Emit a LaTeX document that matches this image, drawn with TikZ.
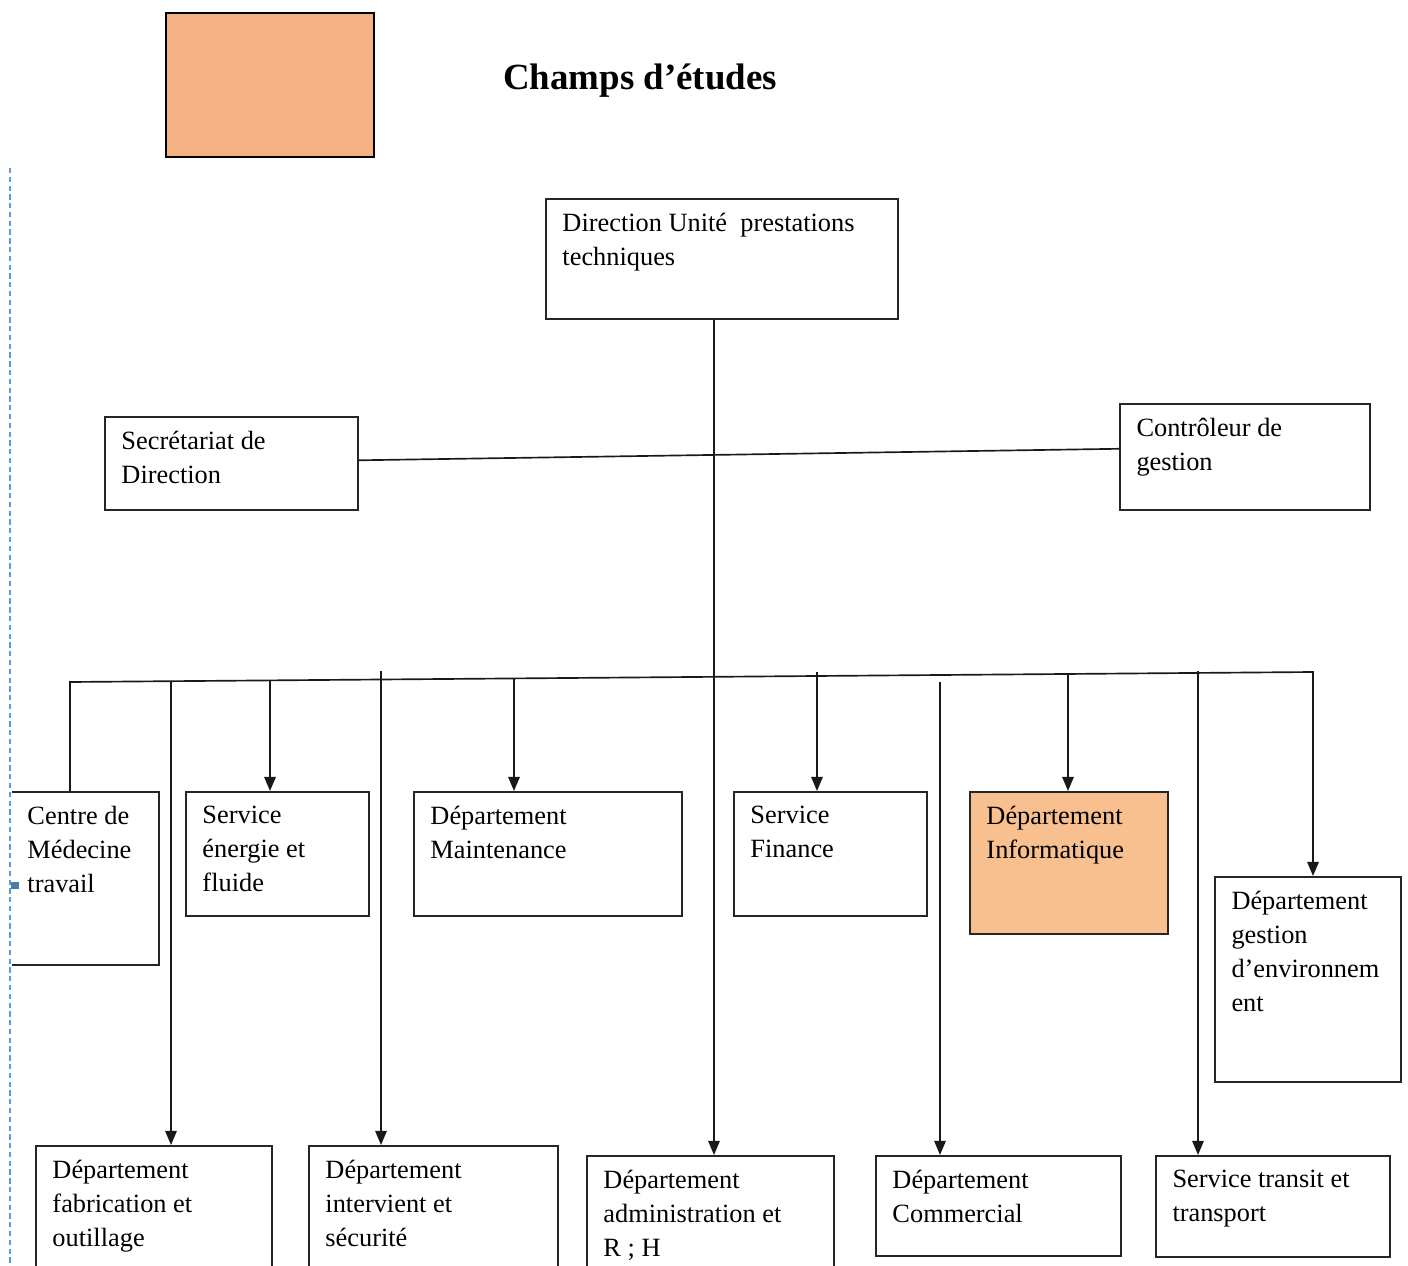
\documentclass[tikz,border=0pt]{standalone}
\usepackage{fontspec}
\setmainfont{Liberation Serif}
\usetikzlibrary{arrows.meta}
\definecolor{cleg}{RGB}{243,177,132}
\definecolor{cinfo}{RGB}{248,191,143}
\definecolor{cguide}{RGB}{91,155,213}

% one pixel of the layout
\newlength{\pxu}\setlength{\pxu}{0.02cm}
% text block of a unit box, top aligned (outer width, outer height in px)
\newcommand{\unittext}[3]{\parbox[t][\dimexpr #2\pxu-16pt\relax][t]{\dimexpr #1\pxu-19pt\relax}{\raggedright #3}}

\begin{document}
\begin{tikzpicture}[
    x=0.02cm, y=-0.02cm,
    unit/.style={draw=black!85, line width=0.9pt, anchor=north west,
                 inner xsep=9.5pt, inner ysep=8pt, font=\fontsize{15}{19.4}\selectfont},
    link/.style={draw=black!90, line width=0.95pt},
    >={Triangle[length=8pt,width=6.5pt]}
  ]
  \useasboundingbox (0,0) rectangle (1408,1266);
  \clip (0,0) rectangle (1408,1266);

  % legend
  \node[draw=black, line width=1.1pt, fill=cleg, anchor=north west, inner sep=0pt,
        minimum width=4.16cm, minimum height=2.88cm] (legend) at (165,12) {};
  \node[font=\fontsize{21}{25}\selectfont\bfseries] (title) at (640,81) {Champs d’études};

  % head
  \node[unit] (dir) at (545,198) {\unittext{352}{120}{Direction Unité \ prestations\\techniques}};
  \node[unit] (sec) at (104,416) {\unittext{253}{93}{Secrétariat de\\Direction}};
  \node[unit] (ctrl) at (1119,403) {\unittext{250}{106}{Contrôleur de\\gestion}};

  % first row
  \node[unit] (med) at (10,791) {\unittext{148}{173}{Centre de\\Médecine\\travail}};
  \node[unit] (ener) at (185,791) {\unittext{183}{124}{Service\\énergie et\\fluide}};
  \node[unit] (maint) at (413,791) {\unittext{268}{124}{Département\\Maintenance}};
  \node[unit] (fin) at (733,791) {\unittext{193}{124}{Service\\Finance}};
  \node[unit, fill=cinfo] (info) at (969,791) {\unittext{198}{142}{Département\\Informatique}};
  \node[unit] (env) at (1214,876) {\unittext{186}{205}{Département\\gestion\\d’environnem\\ent}};

  % second row
  \node[unit] (fab) at (35,1145) {\unittext{236}{160}{Département\\fabrication et\\outillage}};
  \node[unit] (secu) at (308,1145) {\unittext{249}{160}{Département\\intervient et\\sécurité}};
  \node[unit] (admin) at (586,1155) {\unittext{247}{150}{Département\\administration et\\R ; H}};
  \node[unit] (comm) at (875,1155) {\unittext{245}{100}{Département\\Commercial}};
  \node[unit] (trans) at (1155,1155) {\unittext{234}{101}{Service transit et\\transport}};

  % links
  \coordinate (hub) at (714,677);
  \draw[link, ->] (hub |- dir.south) -- (hub |- admin.north);
  \draw[link] ([yshift=0.06cm]sec.east) -- ([yshift=0.16cm]ctrl.west);

  \coordinate (busL) at (70,682);
  \coordinate (busR) at (1313,672);
  \draw[link, ->] (busL |- med.north) -- (busL) -- (busR) -- (busR |- env.north);

  \coordinate (dfab) at (171,681);
  \coordinate (dener) at (270,680);
  \coordinate (dsecu) at (381,671);
  \coordinate (dmaint) at (514,678);
  \coordinate (dfin) at (817,672);
  \coordinate (dcomm) at (940,682);
  \coordinate (dinfo) at (1068,673);
  \coordinate (dtrans) at (1198,671);
  \foreach \d/\t in {dfab/fab, dener/ener, dsecu/secu, dmaint/maint,
                     dfin/fin, dcomm/comm, dinfo/info, dtrans/trans}
    \draw[link, ->] (\d) -- (\d |- \t.north);

  % page guide
  \draw[white, line width=2pt] (10,168) -- (10,1266);
  \draw[cguide, line width=0.6pt, dash pattern=on 3pt off 2pt] (10,168) -- (10,1266);
  \fill[cguide!80!black] (11,882) rectangle (19,889);
\end{tikzpicture}
\end{document}
